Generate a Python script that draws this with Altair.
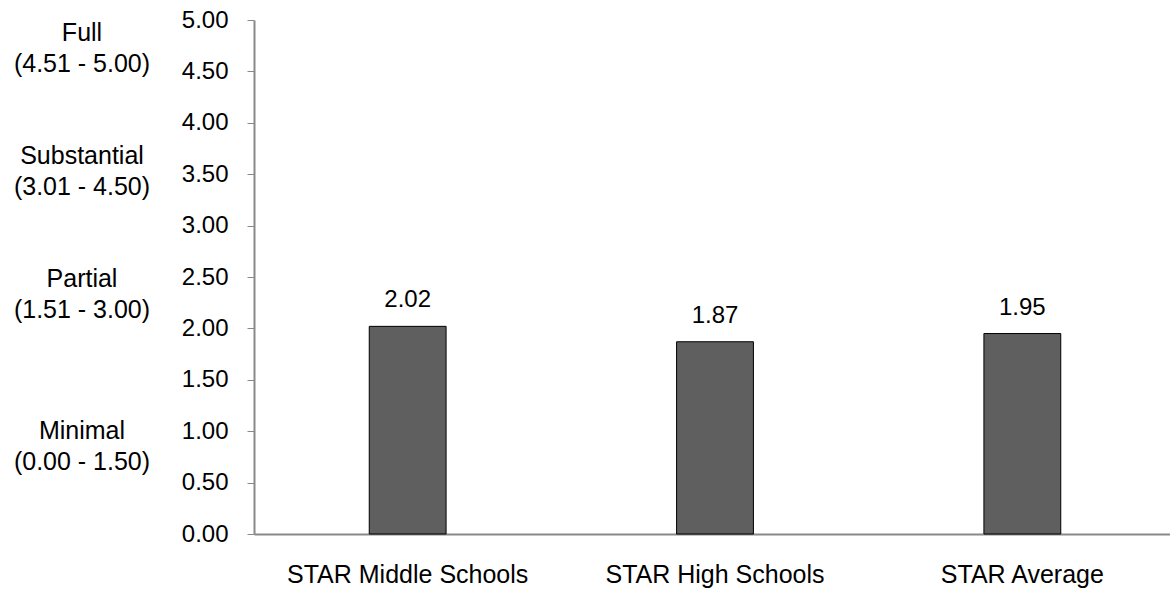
import altair as alt
import pandas as pd

categories = ["STAR Middle Schools", "STAR High Schools", "STAR Average"]
values = [2.02, 1.87, 1.95]

band_labels = ["Full\n(4.51 - 5.00)", "Substantial\n(3.01 - 4.50)", "Partial\n(1.51 - 3.00)", "Minimal\n(0.00 - 1.50)"]
band_pos = [4.72, 3.53, 2.33, 0.85]

df = pd.DataFrame({"cat": categories, "val": values})
bands = pd.DataFrame({"label": band_labels, "pos": band_pos})

FONT = "Liberation Sans"

x = alt.X("cat:N", sort=categories, title=None,
          scale=alt.Scale(paddingInner=0.75, paddingOuter=0.375, range=[0, 922]),
          axis=alt.Axis(labelAngle=0, labelFontSize=25, labelColor="black", labelFont=FONT,
                        labelLimit=0, ticks=False, domainColor="#898989", domainWidth=2,
                        labelPadding=28))
y = alt.Y("val:Q", title=None,
          scale=alt.Scale(domain=[0, 5], nice=False),
          axis=alt.Axis(values=[0, 0.5, 1, 1.5, 2, 2.5, 3, 3.5, 4, 4.5, 5], format=".2f",
                        labelFontSize=24, labelColor="black", labelFont=FONT,
                        tickSize=7, tickColor="#898989", domainColor="#898989", domainWidth=2,
                        labelPadding=19, grid=False))

bars = alt.Chart(df).mark_bar(color="#5f5f5f", stroke="black", strokeWidth=1).encode(x=x, y=y)
texts = alt.Chart(df).mark_text(fontSize=24, font=FONT, color="black", dy=-19, baseline="alphabetic").encode(
    x=alt.X("cat:N", sort=categories), y="val:Q", text=alt.Text("val:Q", format=".2f"))
side = alt.Chart(bands).mark_text(fontSize=25, font=FONT, color="black", align="center",
                                  baseline="middle", lineBreak="\n", lineHeight=31, dy=-15.5).encode(
    x=alt.value(-172), y=alt.Y("pos:Q"), text="label:N")

chart = alt.layer(bars, texts, side).properties(
    width=916, height=514,
    autosize=alt.AutoSizeParams(type="none"),
    padding={"left": 254, "top": 20, "right": 0, "bottom": 55},
    background="white",
).configure_view(stroke=None)

chart.save("out.html", embed_options={"renderer": "svg", "actions": False})
